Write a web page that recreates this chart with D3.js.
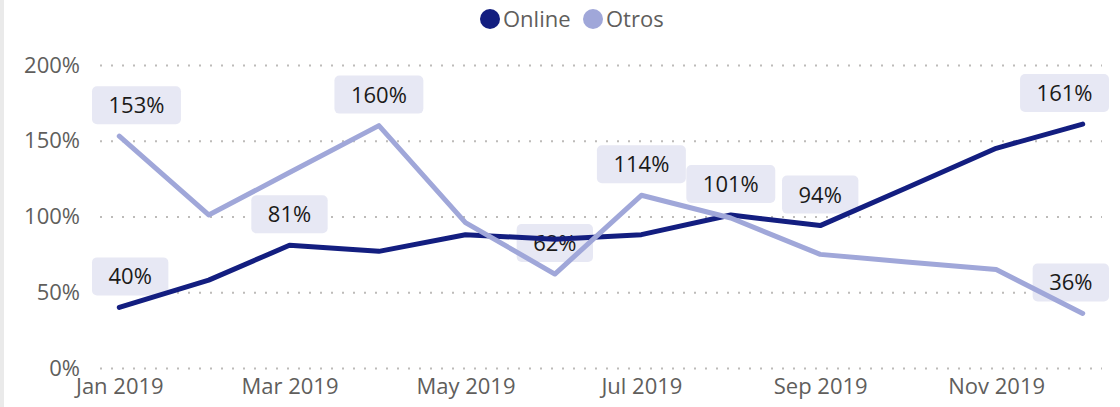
<!DOCTYPE html>
<html>
<head>
<meta charset="utf-8">
<script src="https://cdn.jsdelivr.net/npm/d3@7"></script>
<style>
  html, body { margin: 0; padding: 0; background: #fff; }
  svg { display: block; font-family: 'Segoe UI', 'Open Sans', sans-serif; }
</style>
</head>
<body>
<div class="chart"></div>
<script>
const months = ['2019-01', '2019-02', '2019-03', '2019-04', '2019-05', '2019-06',
  '2019-07', '2019-08', '2019-09', '2019-10', '2019-11', '2019-12']
const online = [40, 58, 81, 77, 88, 85, 88, 101, 94, 119, 145, 161]
const otros = [153, 101, 129, 160, 96, 62, 114, 99, 75, 70, 65, 36]
// points that carry a data label
const onlineLabelIdx = [0, 2, 7, 8, 11]
const otrosLabelIdx = [0, 3, 5, 6, 11]
const yTicks = [0, 50, 100, 150, 200]

const width = 1120
const height = 407
const parseMonth = d3.timeParse('%Y-%m')
const dates = months.map(parseMonth)

const series = [
  { name: 'Online', values: online, labels: onlineLabelIdx, color: '#131E80' },
  { name: 'Otros', values: otros, labels: otrosLabelIdx, color: '#A0A7D9' }
]

const svg = d3.select('.chart')
  .append('svg')
  .attr('width', width)
  .attr('height', height)

// left border strip
svg.append('rect')
  .attr('x', 0).attr('y', 0)
  .attr('width', 4).attr('height', height)
  .attr('fill', '#EAEAEA')

const x = d3.scaleTime()
  .domain(d3.extent(dates))
  .range([119.3, 1082.7])

const y = d3.scaleLinear()
  .domain([0, 200])
  .range([368, 65])

const gridLeft = 100
const gridRight = 1102

const yAxis = svg.append('g')
  .attr('transform', `translate(${gridLeft}, 0)`)
  .call(d3.axisLeft(y)
    .tickValues(yTicks)
    .tickFormat(d => d + '%')
    .tickSizeInner(-(gridRight - gridLeft))
    .tickSizeOuter(0)
    .tickPadding(20))

yAxis.select('.domain').remove()
yAxis.selectAll('line')
  .attr('stroke', '#BDBBB9')
  .attr('stroke-width', 2)
  .attr('stroke-dasharray', '2,9')
yAxis.selectAll('text')
  .attr('fill', '#605E5C')
  .attr('font-size', 22)
  .attr('font-family', "'Segoe UI', 'Open Sans', sans-serif")

const xAxis = svg.append('g')
  .attr('transform', 'translate(0, 372)')
  .call(d3.axisBottom(x)
    .ticks(d3.timeMonth.every(2))
    .tickFormat(d3.timeFormat('%b %Y'))
    .tickSize(0)
    .tickPadding(6))

xAxis.select('.domain').remove()
xAxis.selectAll('text')
  .attr('fill', '#605E5C')
  .attr('font-size', 22)
  .attr('font-family', "'Segoe UI', 'Open Sans', sans-serif")

// data labels (drawn under the lines)
const labelLeft = 92
const labelRight = 1109
const labelGroup = svg.append('g')

series.forEach(s => {
  s.labels.forEach(i => {
    const px = x(dates[i])
    const py = y(s.values[i])
    const g = labelGroup.append('g')
    const t = g.append('text')
      .attr('font-size', 22)
      .attr('fill', '#1B1A19')
      .attr('text-anchor', 'middle')
      .text(s.values[i] + '%')
    const w = t.node().getComputedTextLength() + 33
    let cx = px
    if (cx - w / 2 < labelLeft) cx = labelLeft + w / 2
    if (cx + w / 2 > labelRight) cx = labelRight - w / 2
    const top = py - 50
    g.insert('rect', 'text')
      .attr('x', cx - w / 2)
      .attr('y', top)
      .attr('width', w)
      .attr('height', 38)
      .attr('rx', 5)
      .attr('fill', '#E7E8F4')
    t.attr('x', cx).attr('y', top + 27)
  })
})

// lines
const line = d3.line()
  .x((d, i) => x(dates[i]))
  .y(d => y(d))

svg.append('g')
  .selectAll('path')
  .data(series)
  .join('path')
    .attr('d', d => line(d.values))
    .attr('fill', 'none')
    .attr('stroke', d => d.color)
    .attr('stroke-width', 5)
    .attr('stroke-linejoin', 'round')
    .attr('stroke-linecap', 'round')

// legend
const legend = svg.append('g')
  .attr('transform', 'translate(490, 19)')

const legendItems = legend.selectAll('g')
  .data(series)
  .join('g')
    .attr('transform', (d, i) => `translate(${i * 103}, 0)`)

legendItems.append('circle')
  .attr('r', 10)
  .attr('fill', d => d.color)

legendItems.append('text')
  .attr('x', 13)
  .attr('y', 8)
  .attr('font-size', 22)
  .attr('fill', '#605E5C')
  .text(d => d.name)
</script>
</body>
</html>
